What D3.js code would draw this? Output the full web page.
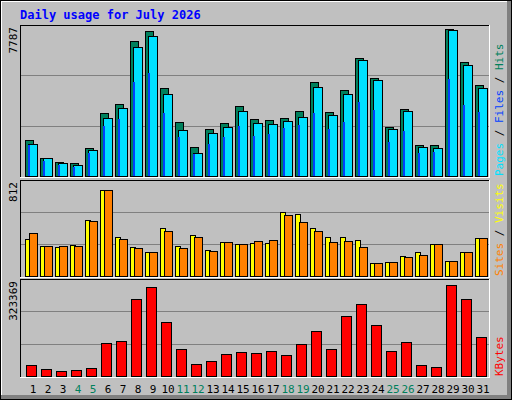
<!DOCTYPE html>
<html><head><meta charset="utf-8">
<script src="https://cdn.jsdelivr.net/npm/d3@7"></script>
<style>body{margin:0;background:#fff}svg{display:block}</style>
</head><body>
<script>
// chart data
var days = d3.range(1, 32);
var weekend = [4, 5, 11, 12, 18, 19, 25, 26];
var hits = [1857,928,722,670,1444,3249,3713,6962,7478,4538,2785,1496,2424,2733,3610,2939,2888,2991,3352,4848,3300,4435,6085,5054,2527,3455,1599,1599,7581,5879,4693];
var files = [1650,928,670,567,1341,2991,3507,6653,7220,4229,2372,1186,2218,2527,3352,2733,2682,2836,3043,4590,3146,4229,5982,4951,2424,3352,1496,1444,7529,5724,4538];
var pages = [1650,825,619,516,1238,2630,2991,4899,5363,3300,2063,1186,1702,2063,2630,2114,2218,2527,2682,3300,2475,2836,3868,3455,1805,2372,1238,1289,5054,3713,3352];
var visits = [320,262,254,271,492,754,344,254,213,418,262,361,230,295,279,287,287,558,541,418,344,344,312,115,123,172,205,279,131,205,328];
var sites = [377,262,262,262,476,746,320,246,213,394,246,344,221,295,279,303,312,533,467,394,295,303,254,115,123,164,180,279,131,213,328];
var kbytes = [37774,24442,17776,21109,27775,111100,117766,257752,297748,181093,91102,41107,51106,74437,81103,77770,84436,71104,107767,151096,91102,201091,241087,171094,84436,114433,37774,31108,304414,257752,131098];
var maxHits = 7787, maxSites = 812, maxKB = 323369;

var W = 512, H = 400;
var mono = "'DejaVu Sans Mono', monospace";
var svg = d3.select('body').append('svg').attr('width', W).attr('height', H);

// background with bevel
svg.append('rect').attr('x', 0).attr('y', 0).attr('width', W).attr('height', H).attr('fill', '#808080');
svg.append('rect').attr('x', 1).attr('y', 1).attr('width', W - 6).attr('height', H - 6).attr('fill', '#c0c0c0');
svg.append('rect').attr('x', 0.5).attr('y', 0.5).attr('width', W - 1).attr('height', H - 1).attr('fill', 'none').attr('stroke', '#000');
svg.append('line').attr('x1', 1).attr('x2', W - 5).attr('y1', 1.5).attr('y2', 1.5).attr('stroke', '#fff');
svg.append('line').attr('x1', 1.5).attr('x2', 1.5).attr('y1', 1).attr('y2', H - 5).attr('stroke', '#fff');

svg.append('text').attr('x', 20).attr('y', 19).attr('fill', '#0000ff')
    .attr('font-family', mono).attr('font-weight', 'bold').attr('font-size', 12)
    .text('Daily usage for July 2026');

var x = d3.scaleLinear().domain([1, 31]).range([25, 475]);

function panel(top, bottom, max) {
    var y = d3.scaleLinear().domain([0, max]).range([bottom, top]);
    var g = svg.append('g');
    // frame
    g.append('line').attr('x1', 20).attr('x2', 490).attr('y1', top + 0.5).attr('y2', top + 0.5).attr('stroke', '#000');
    g.append('line').attr('x1', 20.5).attr('x2', 20.5).attr('y1', top).attr('y2', bottom + 2).attr('stroke', '#000');
    g.append('line').attr('x1', 20).attr('x2', 490).attr('y1', bottom + 1.5).attr('y2', bottom + 1.5).attr('stroke', '#fff');
    g.append('line').attr('x1', 489.5).attr('x2', 489.5).attr('y1', top).attr('y2', bottom + 2).attr('stroke', '#fff');
    [1 / 3, 2 / 3].forEach(function (f) {
        g.append('line').attr('x1', 21).attr('x2', 489).attr('y1', Math.round(y(max * f)) + 0.5)
            .attr('y2', Math.round(y(max * f)) + 0.5).attr('stroke', '#808080');
    });
    // max label
    g.append('text').attr('transform', 'translate(17,' + (top + 2) + ') rotate(-90)')
        .attr('text-anchor', 'end').attr('font-family', mono).attr('font-size', 11).attr('fill', '#000')
        .text(max);
    return {g: g, y: y};
}

function bars(p, vals, dx, w, color) {
    p.g.selectAll(null).data(vals).join('rect')
        .attr('x', function (d, i) { return x(days[i]) + dx + 0.5; })
        .attr('y', function (d) { return Math.round(p.y(d)) + 0.5; })
        .attr('width', w)
        .attr('height', function (d) { return Math.round(p.y(0) - p.y(d)); })
        .attr('fill', color).attr('stroke', '#000');
}

function legend(yBottom, parts) {
    var t = svg.append('text').attr('transform', 'translate(503,' + yBottom + ') rotate(-90)')
        .attr('font-family', mono).attr('font-size', 11);
    parts.forEach(function (p) { t.append('tspan').attr('fill', p[1]).text(p[0]); });
}

var p1 = panel(25, 176, maxHits);
bars(p1, hits, 0, 8, '#00805c');
bars(p1, files, 3, 9, '#00e0ff');
p1.g.selectAll(null).data(pages).join('rect')
    .attr('x', function (d, i) { return x(days[i]) + 3; })
    .attr('y', function (d) { return Math.round(p1.y(d)) + 1; })
    .attr('width', 2)
    .attr('height', function (d) { return Math.round(p1.y(0) - p1.y(d)) - 1; })
    .attr('fill', '#0040ff');
legend(176, [['Pages', '#00e0ff'], [' / ', '#000'], ['Files', '#0040ff'], [' / ', '#000'], ['Hits', '#00805c']]);

var p2 = panel(180, 276, maxSites * 99 / 96);
p2.g.selectAll('text').text(maxSites);
bars(p2, visits, 0, 5, '#ffff00');
bars(p2, sites, 4, 8, '#ff8000');
legend(276, [['Sites', '#ff8000'], [' / ', '#000'], ['Visits', '#ffff00']]);

var p3 = panel(279, 376, maxKB);
bars(p3, kbytes, 1, 10, '#ff0000');
legend(376, [['KBytes', '#ff0000']]);

// day labels
svg.selectAll('.day').data(days).join('text')
    .attr('x', function (d) { return x(d) + 8; })
    .attr('y', 393).attr('text-anchor', 'middle')
    .attr('font-family', mono).attr('font-size', 11)
    .attr('fill', function (d) { return weekend.indexOf(d) >= 0 ? '#00805c' : '#000'; })
    .text(function (d) { return d; });
</script>
</body></html>
